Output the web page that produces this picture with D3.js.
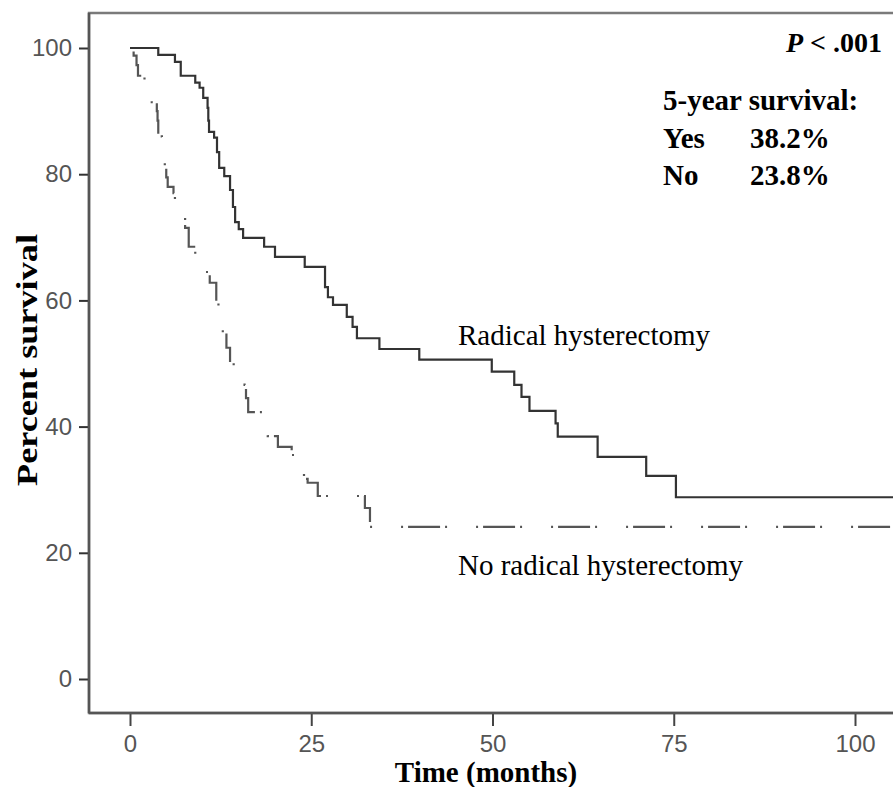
<!DOCTYPE html>
<html>
<head>
<meta charset="utf-8">
<script src="https://cdn.jsdelivr.net/npm/d3@7"></script>
<style>
  body { margin: 0; background: #fff; }
  svg { display: block; }
</style>
</head>
<body>
<div id="chart"></div>
<script>
// Kaplan-Meier steps (months, percent surviving)
const radicalMonths = [0, 3.9, 6.2, 7.0, 9.0, 9.6, 10.1, 10.7, 10.8, 10.9, 11.6, 12.0, 12.3, 13.0, 13.8, 14.2, 14.5, 15.0, 15.6, 18.5, 20.0, 24.1, 26.9, 27.3, 28.0, 29.9, 30.7, 31.3, 34.4, 39.9, 49.9, 53.0, 54.0, 55.1, 58.7, 59.0, 64.5, 71.2, 75.3, 108];
const radicalSurvival = [100, 98.9, 97.8, 95.6, 94.5, 93.7, 92.1, 90.5, 88.5, 86.7, 85.8, 83.5, 81.0, 79.7, 77.5, 74.8, 72.4, 71.3, 69.9, 68.5, 66.9, 65.3, 62.1, 60.5, 59.3, 57.4, 55.8, 54.0, 52.3, 50.6, 48.7, 46.6, 44.7, 42.5, 40.5, 38.4, 35.2, 32.2, 28.8, 28.8];

const noRadicalMonths = [0, 0.5, 0.9, 1.1, 2.0, 3.0, 3.7, 3.8, 3.9, 4.4, 4.8, 5.0, 5.2, 6.0, 6.2, 7.0, 7.6, 8.1, 9.0, 10.2, 11.0, 11.9, 12.2, 12.8, 13.3, 13.8, 14.3, 15.8, 16.0, 16.3, 18.5, 19.0, 20.4, 22.3, 23.0, 24.0, 24.5, 25.9, 32.4, 33.1, 108];
const noRadicalSurvival = [100, 98.8, 97.3, 95.6, 93.5, 91.4, 90.0, 88.5, 86.0, 84.0, 81.0, 79.5, 78.0, 77.0, 75.4, 73.3, 71.5, 68.5, 67.0, 64.5, 62.8, 59.7, 57.5, 54.8, 52.5, 50.1, 48.5, 46.6, 44.5, 42.3, 40.0, 38.5, 36.8, 35.5, 33.5, 31.7, 31.1, 29.0, 27.1, 24.1, 24.1];

const xTicks = [0, 25, 50, 75, 100];
const yTicks = [0, 20, 40, 60, 80, 100];

const curveLabels = ["Radical hysterectomy", "No radical hysterectomy"];
const fiveYearGroups = ["Yes", "No"];
const fiveYearRates = ["38.2%", "23.8%"];

const width = 893, height = 787;
const frame = { left: 89, top: 13, right: 905, bottom: 713 };

const svg = d3.select("#chart").append("svg")
    .attr("width", width)
    .attr("height", height);

const x = d3.scaleLinear().domain([0, 100]).range([130, 855]);
const y = d3.scaleLinear().domain([0, 100]).range([679, 48]);

svg.append("clipPath").attr("id", "plot-clip")
    .append("rect")
    .attr("x", frame.left).attr("y", frame.top)
    .attr("width", frame.right - frame.left).attr("height", frame.bottom - frame.top);

// frame box (right side runs off the picture)
svg.append("rect")
    .attr("x", frame.left).attr("y", frame.top)
    .attr("width", frame.right - frame.left).attr("height", frame.bottom - frame.top)
    .attr("fill", "none")
    .attr("stroke", "#7a7a7a")
    .attr("stroke-width", 2.5);

const tickFont = "'Liberation Sans', Arial, sans-serif";

// y axis
const yAxis = svg.append("g")
    .attr("transform", `translate(${frame.left},0)`)
    .call(d3.axisLeft(y).tickValues(yTicks).tickSize(10).tickPadding(7));
yAxis.select(".domain").remove();
yAxis.selectAll(".tick line").attr("stroke", "#333").attr("stroke-width", 2);
yAxis.selectAll(".tick text")
    .attr("fill", "#555")
    .style("font-family", tickFont)
    .style("font-size", "24px");

// x axis
const xAxis = svg.append("g")
    .attr("transform", `translate(0,${frame.bottom})`)
    .call(d3.axisBottom(x).tickValues(xTicks).tickSize(13).tickPadding(9));
xAxis.select(".domain").remove();
xAxis.selectAll(".tick line").attr("stroke", "#444").attr("stroke-width", 2);
xAxis.selectAll(".tick text")
    .attr("fill", "#555")
    .style("font-family", tickFont)
    .style("font-size", "24px");

// darker left and bottom axis lines
svg.append("line")
    .attr("x1", frame.left).attr("x2", frame.left)
    .attr("y1", frame.top).attr("y2", frame.bottom)
    .attr("stroke", "#555").attr("stroke-width", 2.5);
svg.append("line")
    .attr("x1", frame.left).attr("x2", width)
    .attr("y1", frame.bottom).attr("y2", frame.bottom)
    .attr("stroke", "#555").attr("stroke-width", 2.5);

const stepLine = d3.line()
    .x(d => x(d[0]))
    .y(d => y(d[1]))
    .curve(d3.curveStepAfter);

const plot = svg.append("g").attr("clip-path", "url(#plot-clip)");

plot.append("path")
    .datum(d3.zip(noRadicalMonths, noRadicalSurvival))
    .attr("d", stepLine)
    .attr("fill", "none")
    .attr("stroke", "#555")
    .attr("stroke-width", 2.2)
    .attr("stroke-dasharray", "2,5,32,5,2,29");

plot.append("path")
    .datum(d3.zip(radicalMonths, radicalSurvival))
    .attr("d", stepLine)
    .attr("fill", "none")
    .attr("stroke", "#333")
    .attr("stroke-width", 2.2);

const serif = "'Liberation Serif', 'Times New Roman', serif";

// curve labels
svg.append("text")
    .attr("x", 458).attr("y", 345)
    .style("font-family", serif).style("font-size", "29px")
    .text(curveLabels[0]);
svg.append("text")
    .attr("x", 458).attr("y", 575)
    .style("font-family", serif).style("font-size", "29px")
    .text(curveLabels[1]);

// p value and 5-year survival
const pText = svg.append("text")
    .attr("x", 882).attr("y", 52)
    .attr("text-anchor", "end")
    .style("font-family", serif).style("font-size", "28px").style("font-weight", "bold");
pText.append("tspan").style("font-style", "italic").text("P");
pText.append("tspan").text(" < .001");

svg.append("text")
    .attr("x", 663).attr("y", 110)
    .style("font-family", serif).style("font-size", "29px").style("font-weight", "bold")
    .text("5-year survival:");

fiveYearGroups.forEach((g, i) => {
    svg.append("text")
        .attr("x", 663).attr("y", 148 + i * 37)
        .style("font-family", serif).style("font-size", "29px").style("font-weight", "bold")
        .text(g);
    svg.append("text")
        .attr("x", 750).attr("y", 148 + i * 37)
        .style("font-family", serif).style("font-size", "29px").style("font-weight", "bold")
        .text(fiveYearRates[i]);
});

// axis titles (the y title is stretched along its length in the original)
svg.append("text")
    .attr("transform", "translate(37,360) rotate(-90) scale(1.25,1)")
    .attr("text-anchor", "middle")
    .style("font-family", serif).style("font-size", "29px").style("font-weight", "bold")
    .text("Percent survival");

svg.append("text")
    .attr("x", 486).attr("y", 782)
    .attr("text-anchor", "middle")
    .style("font-family", serif).style("font-size", "29px").style("font-weight", "bold")
    .text("Time (months)");
</script>
</body>
</html>
